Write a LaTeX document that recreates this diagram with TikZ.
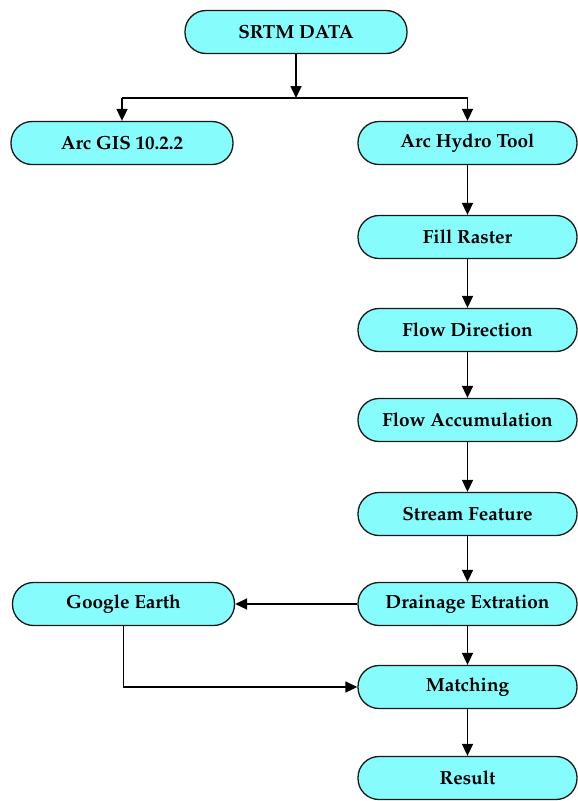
\documentclass[tikz,border=0pt]{standalone}
\usepackage[T1]{fontenc}
\usetikzlibrary{arrows.meta}
\definecolor{boxfill}{RGB}{134,252,253}
\definecolor{boxline}{RGB}{25,25,25}
\begin{document}
\begin{tikzpicture}[x=1pt,y=-1pt,
  flowbox/.style={draw=boxline,line width=1.3pt,fill=boxfill,rounded corners=21pt,
    minimum height=43pt,minimum width=#1,inner sep=0pt,
    font=\fontencoding{T1}\fontfamily{ppl}\fontseries{b}\fontsize{19}{22}\selectfont},
  flowbox/.default=220pt,
  conn/.style={line width=1.7pt,draw=black},
  arr/.style={conn,-{Triangle[length=12pt,width=11pt]}}]
\useasboundingbox (0,0) rectangle (578,801);
\node[flowbox=222pt] (srtm) at (296,32) {SRTM DATA};
\node[flowbox=222pt] (arcgis) at (122,143) {Arc GIS 10.2.2};
\node[flowbox=219pt] (hydro) at (467.5,143) {Arc Hydro Tool};
\node[flowbox=219pt] (fill) at (467.5,237) {Fill Raster};
\node[flowbox=219pt] (fdir) at (467.5,330) {Flow Direction};
\node[flowbox=219pt] (facc) at (467.5,420) {Flow Accumulation};
\node[flowbox=219pt] (stream) at (467.5,514) {Stream Feature};
\node[flowbox=219pt] (drain) at (467.5,604) {Drainage Extration};
\node[flowbox=222pt] (google) at (123.5,604) {Google Earth};
\node[flowbox=219pt] (match) at (467.5,687) {Matching};
\node[flowbox=219pt] (result) at (467.5,778) {Result};
\coordinate (jm) at (296,98);
\coordinate (jl) at (122,98);
\coordinate (jr) at (467.5,98);
\draw[arr] (srtm) -- (jm);
\draw[conn] (jl) -- (jr);
\draw[arr] (jl) -- (arcgis);
\draw[arr] (jr) -- (hydro);
\draw[arr] (hydro) -- (fill);
\draw[arr] (fill) -- (fdir);
\draw[arr] (fdir) -- (facc);
\draw[arr] (facc) -- (stream);
\draw[arr] (stream) -- (drain);
\draw[arr] (drain) -- (google);
\draw[arr] (drain) -- (match);
\draw[arr] (google.south) |- (match.west);
\draw[arr] (match) -- (result);
\end{tikzpicture}
\end{document}
